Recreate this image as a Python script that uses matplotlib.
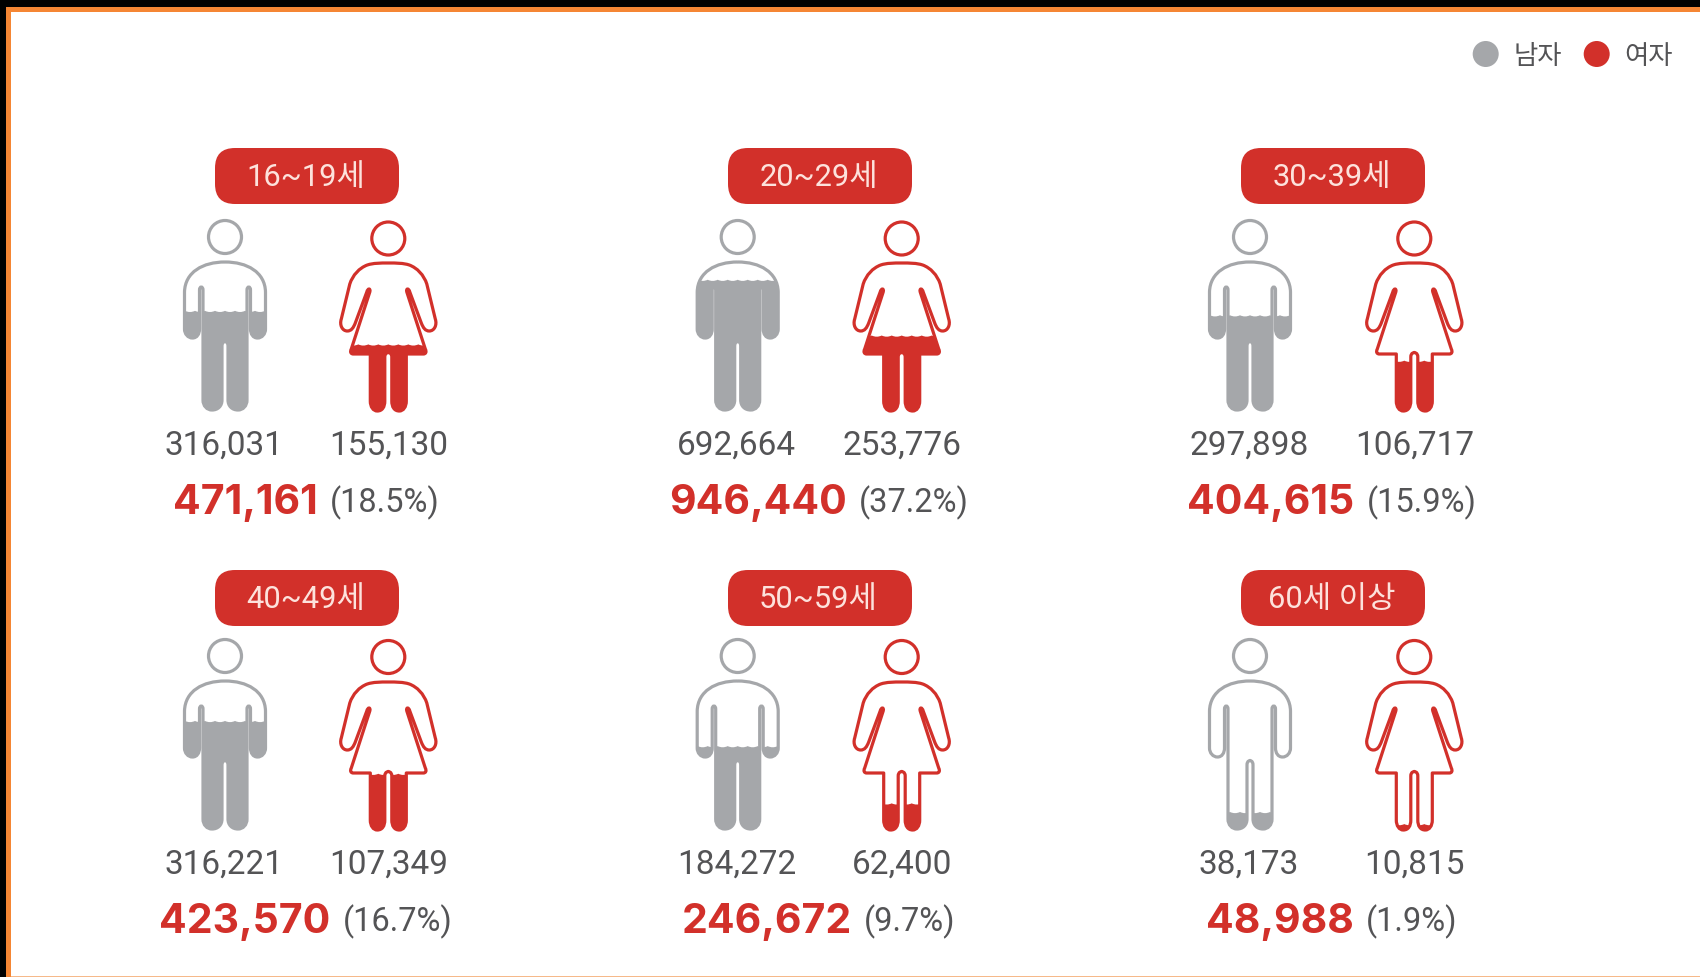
import matplotlib
matplotlib.use("Agg")
import matplotlib.pyplot as plt
from matplotlib.path import Path
from matplotlib.patches import PathPatch, Circle, FancyBboxPatch, Rectangle
from matplotlib.transforms import Affine2D

# ---------- data ----------
age_groups = ["16~19세", "20~29세", "30~39세", "40~49세", "50~59세", "60세 이상"]
male = [316031, 692664, 297898, 316221, 184272, 38173]
female = [155130, 253776, 106717, 107349, 62400, 10815]
totals = [471161, 946440, 404615, 423570, 246672, 48988]
shares = [18.5, 37.2, 15.9, 16.7, 9.7, 1.9]
# share of each icon that is filled
male_fill = [0.67, 0.88, 0.64, 0.73, 0.56, 0.115]
female_fill = [0.45, 0.51, 0.34, 0.38, 0.18, 0.04]
legend_labels = ["남자", "여자"]

# ---------- style ----------
GRAY = "#a5a7aa"
RED = "#d2302a"
TEXT = "#545456"
ORANGE = "#f58634"
FONT = ["Roboto", "Noto Sans CJK KR", "DejaVu Sans"]
BOLD = ["Inter", "Roboto", "DejaVu Sans"]
KFONT = ["Noto Sans CJK KR", "DejaVu Sans"]
ICON_H = 148.0

fig = plt.figure(figsize=(17, 9.78), dpi=100, facecolor="black")
ax = fig.add_axes([0, 0, 1, 1])
ax.set_xlim(0, 1700)
ax.set_ylim(978, 0)
ax.axis("off")

ax.add_patch(Rectangle((6, 8), 1694, 970, fc=ORANGE, ec="none"))
ax.add_patch(Rectangle((11, 13), 1689, 964, fc="white", ec="none"))
ax.add_patch(Rectangle((11, 977), 1689, 1, fc="#f6b98a", ec="none"))


def build(right):
    """Closed outline, mirrored about the vertical axis of the icon."""
    verts, codes = [(0, 0)], [Path.MOVETO]
    for seg in right:
        if len(seg) == 1:
            verts.append(seg[0]); codes.append(Path.LINETO)
        else:
            verts.extend(seg); codes.extend([Path.CURVE4] * 3)
    start_pts = [(0, 0)] + [s[-1] for s in right]
    for i in range(len(right) - 1, -1, -1):
        seg = right[i]
        prev = start_pts[i]
        if len(seg) == 1:
            verts.append((-prev[0], prev[1])); codes.append(Path.LINETO)
        else:
            verts.extend([(-seg[1][0], seg[1][1]), (-seg[0][0], seg[0][1]), (-prev[0], prev[1])])
            codes.extend([Path.CURVE4] * 3)
    return Path(verts, codes)


man_right = [
    [(22, 0), (40, 10), (40.5, 30)],
    [(40.5, 67)],
    [(40.5, 72), (37, 76), (32.5, 76)],
    [(28, 76), (25.5, 72), (25.5, 67)],
    [(25.5, 28)],
    [(25.5, 24), (22, 24), (22, 28)],
    [(22, 138)],
    [(22, 144), (18, 148), (13, 148)],
    [(7, 148), (3, 144), (3, 138)],
    [(3, 84)],
    [(3, 79.5), (0, 79.5), (0, 79.5)],
]
woman_right = [
    [(8, 0), (15, 0), (21, 2)],
    [(29, 5), (35.5, 12), (38.5, 21)],
    [(47, 56)],
    [(49, 62), (46, 68), (41, 68)],
    [(37, 68), (35, 65), (33, 60)],
    [(21.5, 29)],
    [(20.5, 25), (17.5, 25), (18.5, 29)],
    [(37, 86)],
    [(38.5, 89), (37.5, 91), (35, 91)],
    [(18, 91)],
    [(18, 138)],
    [(18, 144), (15, 148), (11, 148)],
    [(6, 148), (3.5, 144), (3.5, 138)],
    [(3.5, 94)],
    [(3.5, 89.5), (0, 89.5), (0, 89.5)],
]
MAN = build(man_right)
WOMAN = build(woman_right)


def wave_clip(frac):
    """Region below the fill level, with a scalloped upper edge."""
    y = (1 - frac) * ICON_H
    verts, codes = [(-60, y)], [Path.MOVETO]
    x = -60
    while x < 60:
        verts += [(x + 5, y + 2.4), (x + 10, y)]
        codes += [Path.CURVE3, Path.CURVE3]
        x += 10
    verts += [(60, ICON_H + 5), (-60, ICON_H + 5), (-60, y)]
    codes += [Path.LINETO, Path.LINETO, Path.CLOSEPOLY]
    return Path(verts, codes)


def person(path, cx, top, head_y, head_r, frac, color):
    tr = Affine2D().translate(cx, top) + ax.transData
    fill = PathPatch(path, fc=color, ec=color, lw=0.8, transform=tr, zorder=2)
    ax.add_patch(fill)
    fill.set_clip_path(wave_clip(frac), tr)
    ax.add_patch(PathPatch(path, fc="none", ec=color, lw=2.3, transform=tr,
                           zorder=3, joinstyle="round"))
    ax.add_patch(Circle((cx, head_y), head_r, fc="white", ec=color, lw=2.3, zorder=3))


col_centers = [307, 820, 1333]
man_x = [225, 737.7, 1250]
woman_x = [388.3, 901.7, 1414.3]
rows = [
    dict(badge=(149, 205), man_top=263, woman_top=264, man_head=238, woman_head=239.5,
         label=446, total=503),
    dict(badge=(571, 627), man_top=682, woman_top=683, man_head=657, woman_head=658,
         label=865, total=922),
]

renderer = fig.canvas.get_renderer()
for i, group in enumerate(age_groups):
    r, c = divmod(i, 3)
    row = rows[r]
    cc = col_centers[c]
    y0, y1 = row["badge"]
    rad = 20
    ax.add_patch(FancyBboxPatch((cc - 92 + rad, y0 + rad), 184 - 2 * rad, y1 - y0 - 2 * rad,
                                boxstyle=f"round,pad={rad},rounding_size={rad}",
                                mutation_scale=1, fc=RED, ec="none", zorder=2))
    ax.text(cc - 1.5, (y0 + y1) / 2 + 0.5, group, ha="center", va="center", color="#fde2dc",
            fontsize=22.2, family=FONT, zorder=4)

    person(MAN, man_x[c], row["man_top"], row["man_head"], 16.5, male_fill[i], GRAY)
    person(WOMAN, woman_x[c], row["woman_top"], row["woman_head"], 16.5, female_fill[i], RED)

    ax.text(man_x[c] - 1, row["label"], f"{male[i]:,}", ha="center", va="center",
            color=TEXT, fontsize=24, family=FONT)
    ax.text(woman_x[c], row["label"], f"{female[i]:,}", ha="center", va="center",
            color=TEXT, fontsize=24, family=FONT)

    t1 = ax.text(0, row["total"], f"{totals[i]:,}", ha="left", va="center",
                 color=RED, fontsize=29.5, family=BOLD, fontweight="bold")
    t2 = ax.text(0, row["total"], f"({shares[i]}%)", ha="left", va="center",
                 color=TEXT, fontsize=23.5, family=FONT)
    w1 = t1.get_window_extent(renderer).width
    w2 = t2.get_window_extent(renderer).width
    gap = 12
    left = cc - 1 - (w1 + gap + w2) / 2
    t1.set_x(left)
    t2.set_x(left + w1 + gap)

# legend
for x, tx, col, lab in zip([1485.7, 1596.7], [1537.5, 1649], [GRAY, RED], legend_labels):
    ax.add_patch(Circle((x, 55), 13, fc=col, ec="none", zorder=3))
    ax.text(tx, 56, lab, ha="center", va="center", color=TEXT, fontsize=19, family=KFONT)

fig.savefig("out.png", dpi=100, facecolor="black")
